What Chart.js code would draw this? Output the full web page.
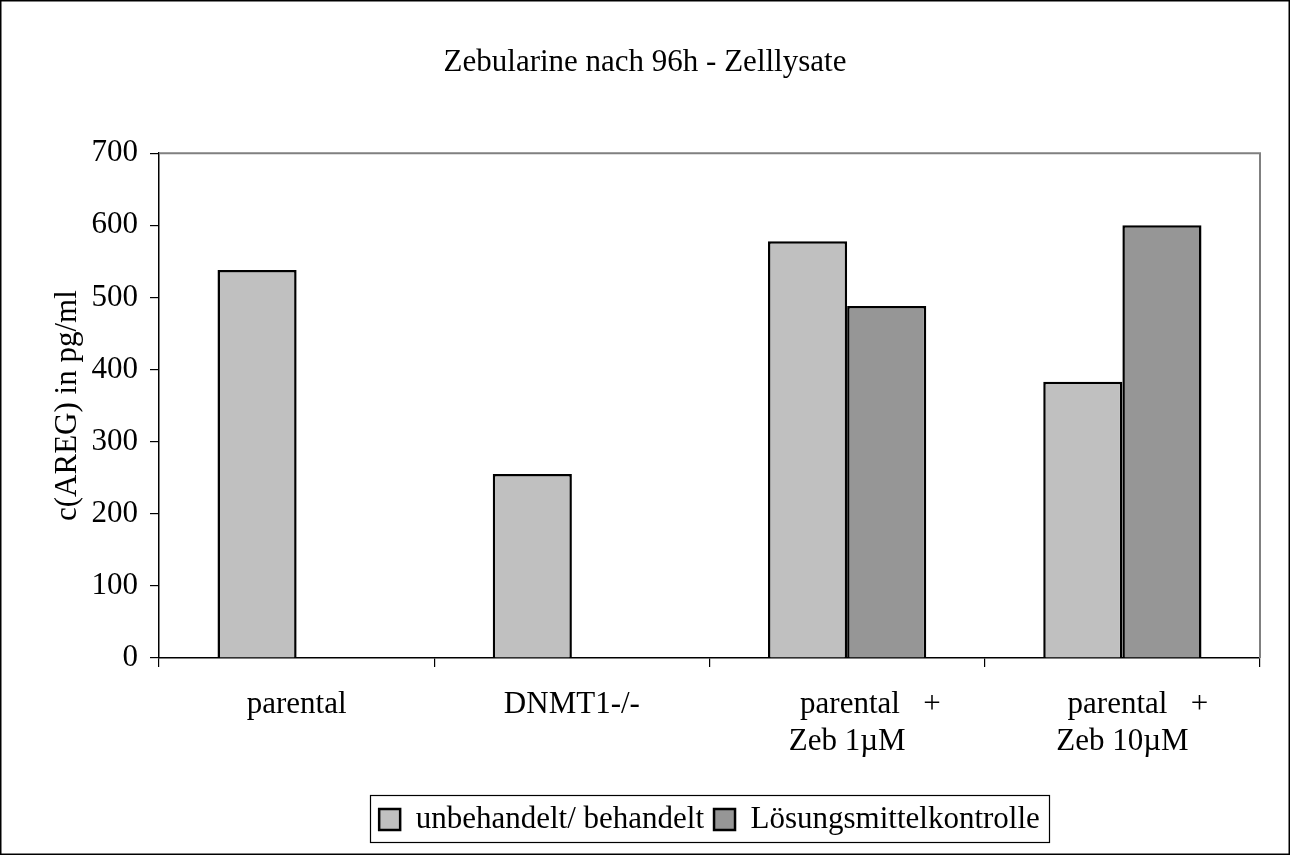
<!DOCTYPE html>
<html>
<head>
<meta charset="utf-8">
<script src="https://cdn.jsdelivr.net/npm/chart.js@4.4.0/dist/chart.umd.min.js"></script>
<style>
html,body{margin:0;padding:0;background:#fff;}
#wrap{width:1290px;height:855px;position:relative;}
</style>
</head>
<body>
<div id="wrap"><canvas id="c" width="1290" height="855"></canvas></div>
<script>
const categories = [["parental"], ["DNMT1-/-"], ["      parental   +", "Zeb 1\u00B5M"], ["    parental   +", "Zeb 10\u00B5M"]];
const seriesNames = ["unbehandelt/ behandelt", "L\u00F6sungsmittelkontrolle"];
const treatedValues = [538, 255, 578, 383];
const solventValues = [null, null, 488, 600];
const yTicks = [0, 100, 200, 300, 400, 500, 600, 700];
const titleText = "Zebularine nach 96h - Zelllysate";
const yTitle = "c(AREG) in pg/ml";

const FONT = "'Liberation Serif', 'Times New Roman', serif";
const FS = 31;

const framePlugin = {
  id: 'frame',
  afterLayout(chart) {
    const a = chart.chartArea;
    const lg = chart.legend;
    if (lg) {
      const dx = (a.left + a.right) / 2 - (lg.left + lg.right) / 2;
      lg.left += dx; lg.right += dx;
    }
    const tb = chart.titleBlock;
    if (tb) { tb.left = 0; tb.right = chart.width; }
  },
  beforeDraw(chart) {
    const ctx = chart.ctx;
    ctx.save();
    ctx.fillStyle = '#fff';
    ctx.fillRect(0, 0, chart.width, chart.height);
    ctx.restore();
  },
  afterDraw(chart) {
    const ctx = chart.ctx;
    const a = chart.chartArea;
    ctx.save();
    ctx.strokeStyle = '#000';
    ctx.lineWidth = 1.5;
    ctx.strokeRect(0.75, 0.75, chart.width - 1.5, chart.height - 1.5);
    ctx.strokeStyle = '#808080';
    ctx.lineWidth = 2;
    ctx.beginPath();
    ctx.moveTo(a.left, a.top);
    ctx.lineTo(a.right, a.top);
    ctx.lineTo(a.right, a.bottom);
    ctx.stroke();
    const lg = chart.legend;
    if (lg && lg.legendHitBoxes && lg.legendHitBoxes.length) {
      let l = Infinity, r = -Infinity, t = Infinity, b = -Infinity;
      lg.legendHitBoxes.forEach(h => {
        l = Math.min(l, h.left); r = Math.max(r, h.left + h.width);
        t = Math.min(t, h.top); b = Math.max(b, h.top + h.height);
      });
      ctx.strokeStyle = '#000';
      ctx.lineWidth = 1.2;
      const x0 = Math.round(l - 9) + 0.5, y0 = Math.round(t - 9) + 0.5;
      const x1 = Math.round(r + 9) + 0.5, y1 = Math.round(b + 7) + 0.5;
      ctx.strokeRect(x0, y0, x1 - x0, y1 - y0);
    }
    ctx.restore();
  }
};

new Chart(document.getElementById('c'), {
  type: 'bar',
  data: {
    labels: categories,
    datasets: [
      { label: seriesNames[0], data: treatedValues, backgroundColor: '#c0c0c0', borderColor: '#000', borderWidth: 2.5 },
      { label: seriesNames[1], data: solventValues, backgroundColor: '#969696', borderColor: '#000', borderWidth: 2.5 }
    ]
  },
  options: {
    responsive: false,
    animation: false,
    devicePixelRatio: 1,
    layout: { padding: { left: 0, right: 30, top: 0, bottom: 10 } },
    datasets: { bar: { categoryPercentage: 0.575, barPercentage: 1.0, borderSkipped: 'start' } },
    plugins: {
      title: {
        display: true,
        text: titleText,
        color: '#000',
        font: { family: FONT, size: FS, weight: 'normal', lineHeight: 1.2 },
        padding: { top: 44, bottom: 72 }
      },
      legend: {
        position: 'bottom',
        labels: {
          color: '#000',
          font: { family: FONT, size: FS },
          boxWidth: 21,
          boxHeight: 21,
          padding: 10
        }
      },
      tooltip: { enabled: false }
    },
    scales: {
      x: {
        grid: { display: true, drawOnChartArea: false, drawTicks: true, tickLength: 9, color: '#000', lineWidth: 1.2, offset: true },
        border: { display: true, color: '#000', width: 1.5 },
        ticks: { color: '#000', font: { family: FONT, size: FS, lineHeight: 1.2 }, padding: 19, maxRotation: 0, autoSkip: false },
        afterFit(s) { s.height = 136; }
      },
      y: {
        min: 0, max: 700,
        afterBuildTicks(s) { s.ticks = yTicks.map(v => ({ value: v })); },
        grid: { display: true, drawOnChartArea: false, drawTicks: true, tickLength: 9, color: '#000', lineWidth: 1.2 },
        border: { display: true, color: '#000', width: 1.5 },
        ticks: { color: '#000', font: { family: FONT, size: FS }, padding: 12 },
        title: { display: true, text: yTitle, color: '#000', font: { family: FONT, size: FS, lineHeight: 1.2 }, padding: { top: 49, bottom: 0 } },
        afterFit(s) { s.width = 159; }
      }
    }
  },
  plugins: [framePlugin]
});
</script>
</body>
</html>
